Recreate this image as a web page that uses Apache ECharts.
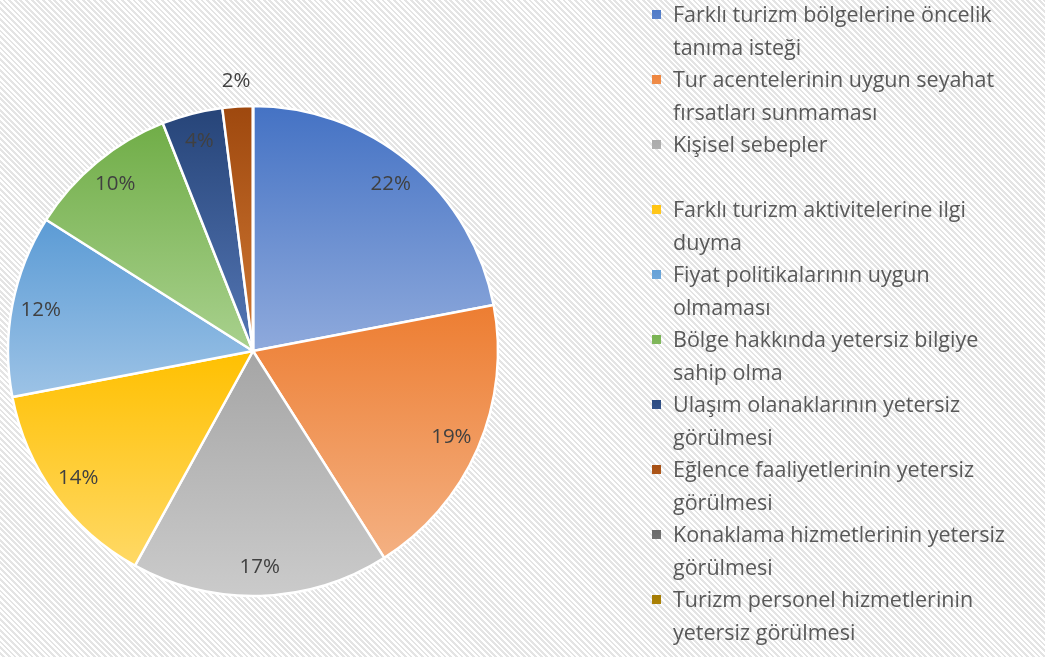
<!DOCTYPE html>
<html>
<head>
<meta charset="utf-8">
<script src="https://cdn.jsdelivr.net/npm/echarts@6/dist/echarts.min.js"></script>
<style>
html,body{margin:0;padding:0;}
#chart{width:1045px;height:657px;background:repeating-linear-gradient(45deg,#ffffff 0px,#ffffff 2px,#e4e4e4 2px,#e4e4e4 4px);}
</style>
</head>
<body>
<div id="chart"></div>
<script>
const names = [
  "Farklı turizm bölgelerine öncelik tanıma isteği",
  "Tur acentelerinin uygun seyahat fırsatları sunmaması",
  "Kişisel sebepler",
  "Farklı turizm aktivitelerine ilgi duyma",
  "Fiyat politikalarının uygun olmaması",
  "Bölge hakkında yetersiz bilgiye sahip olma",
  "Ulaşım olanaklarının yetersiz görülmesi",
  "Eğlence faaliyetlerinin yetersiz görülmesi",
  "Konaklama hizmetlerinin yetersiz görülmesi",
  "Turizm personel hizmetlerinin yetersiz görülmesi"
];
const legendLabels = [
  "Farklı turizm bölgelerine öncelik\ntanıma isteği",
  "Tur acentelerinin uygun seyahat\nfırsatları sunmaması",
  "Kişisel sebepler\n ",
  "Farklı turizm aktivitelerine ilgi\nduyma",
  "Fiyat politikalarının uygun\nolmaması",
  "Bölge hakkında yetersiz bilgiye\nsahip olma",
  "Ulaşım olanaklarının yetersiz\ngörülmesi",
  "Eğlence faaliyetlerinin yetersiz\ngörülmesi",
  "Konaklama hizmetlerinin yetersiz\ngörülmesi",
  "Turizm personel hizmetlerinin\nyetersiz görülmesi"
];
const values = [22, 19, 17, 14, 12, 10, 4, 2, 0, 0];
const baseColors = ["#4472C4","#ED7D31","#A5A5A5","#FFC000","#5B9BD5","#70AD47","#264478","#9E480E","#636363","#997300"];
const lightColors = ["#8FAADC","#F4B183","#CBCBCB","#FFD966","#9DC3E6","#A9D18E","#5577B5","#D27A35","#9A9A9A","#D9A514"];

const chart = echarts.init(document.getElementById('chart'), null, {renderer:'canvas'});
const CX = 253, CY = 351, R = 245;
const font = '"Open Sans", Lato, sans-serif';

function grad(i){
  return {type:'linear',x:0,y:0,x2:0,y2:1,colorStops:[{offset:0,color:baseColors[i]},{offset:1,color:lightColors[i]}]};
}
const mainData = names.map((n,i)=>({name:n,value:values[i],itemStyle:{color:grad(i)}}));
const insideData = names.map((n,i)=>({name:n,value:values[i],label:{show:values[i]>=3}}));
const outsideData = names.map((n,i)=>({name:n,value:values[i],label:{show:values[i]>0 && values[i]<3}}));

const labelStyle = {position:'inside',formatter:'{c}%',fontFamily:font,fontSize:20.5,color:'#404040'};
const overlayBase = {type:'pie',center:[CX,CY],startAngle:90,clockwise:true,silent:true,
  legendHoverLink:false,labelLine:{show:false},emphasis:{disabled:true},
  itemStyle:{color:'rgba(0,0,0,0)',borderWidth:0},animation:false};

chart.setOption({
  animation:false,
  legend:{
    orient:'vertical',left:652,top:0,padding:0,itemGap:0,
    itemWidth:16,itemHeight:65,
    icon:'path://M0,0h0.05v0.05h-0.05zM0,10h9v9h-9zM15.95,64.95h0.05v0.05h-0.05z',
    itemStyle:{borderWidth:0},
    selectedMode:false,
    data:names,
    formatter:function(n){return legendLabels[names.indexOf(n)];},
    textStyle:{fontFamily:font,fontSize:21.5,color:'#595959',lineHeight:32.5}
  },
  series:[
    {type:'pie',center:[CX,CY],radius:[0,R],startAngle:90,clockwise:true,
     label:{show:false},labelLine:{show:false},emphasis:{disabled:true},
     itemStyle:{borderColor:'#ffffff',borderWidth:2.5},
     data:mainData},
    Object.assign({},overlayBase,{radius:[R*0.74,R],label:labelStyle,data:insideData}),
    Object.assign({},overlayBase,{radius:[R+10,R+34],label:labelStyle,data:outsideData})
  ]
});
</script>
</body>
</html>
